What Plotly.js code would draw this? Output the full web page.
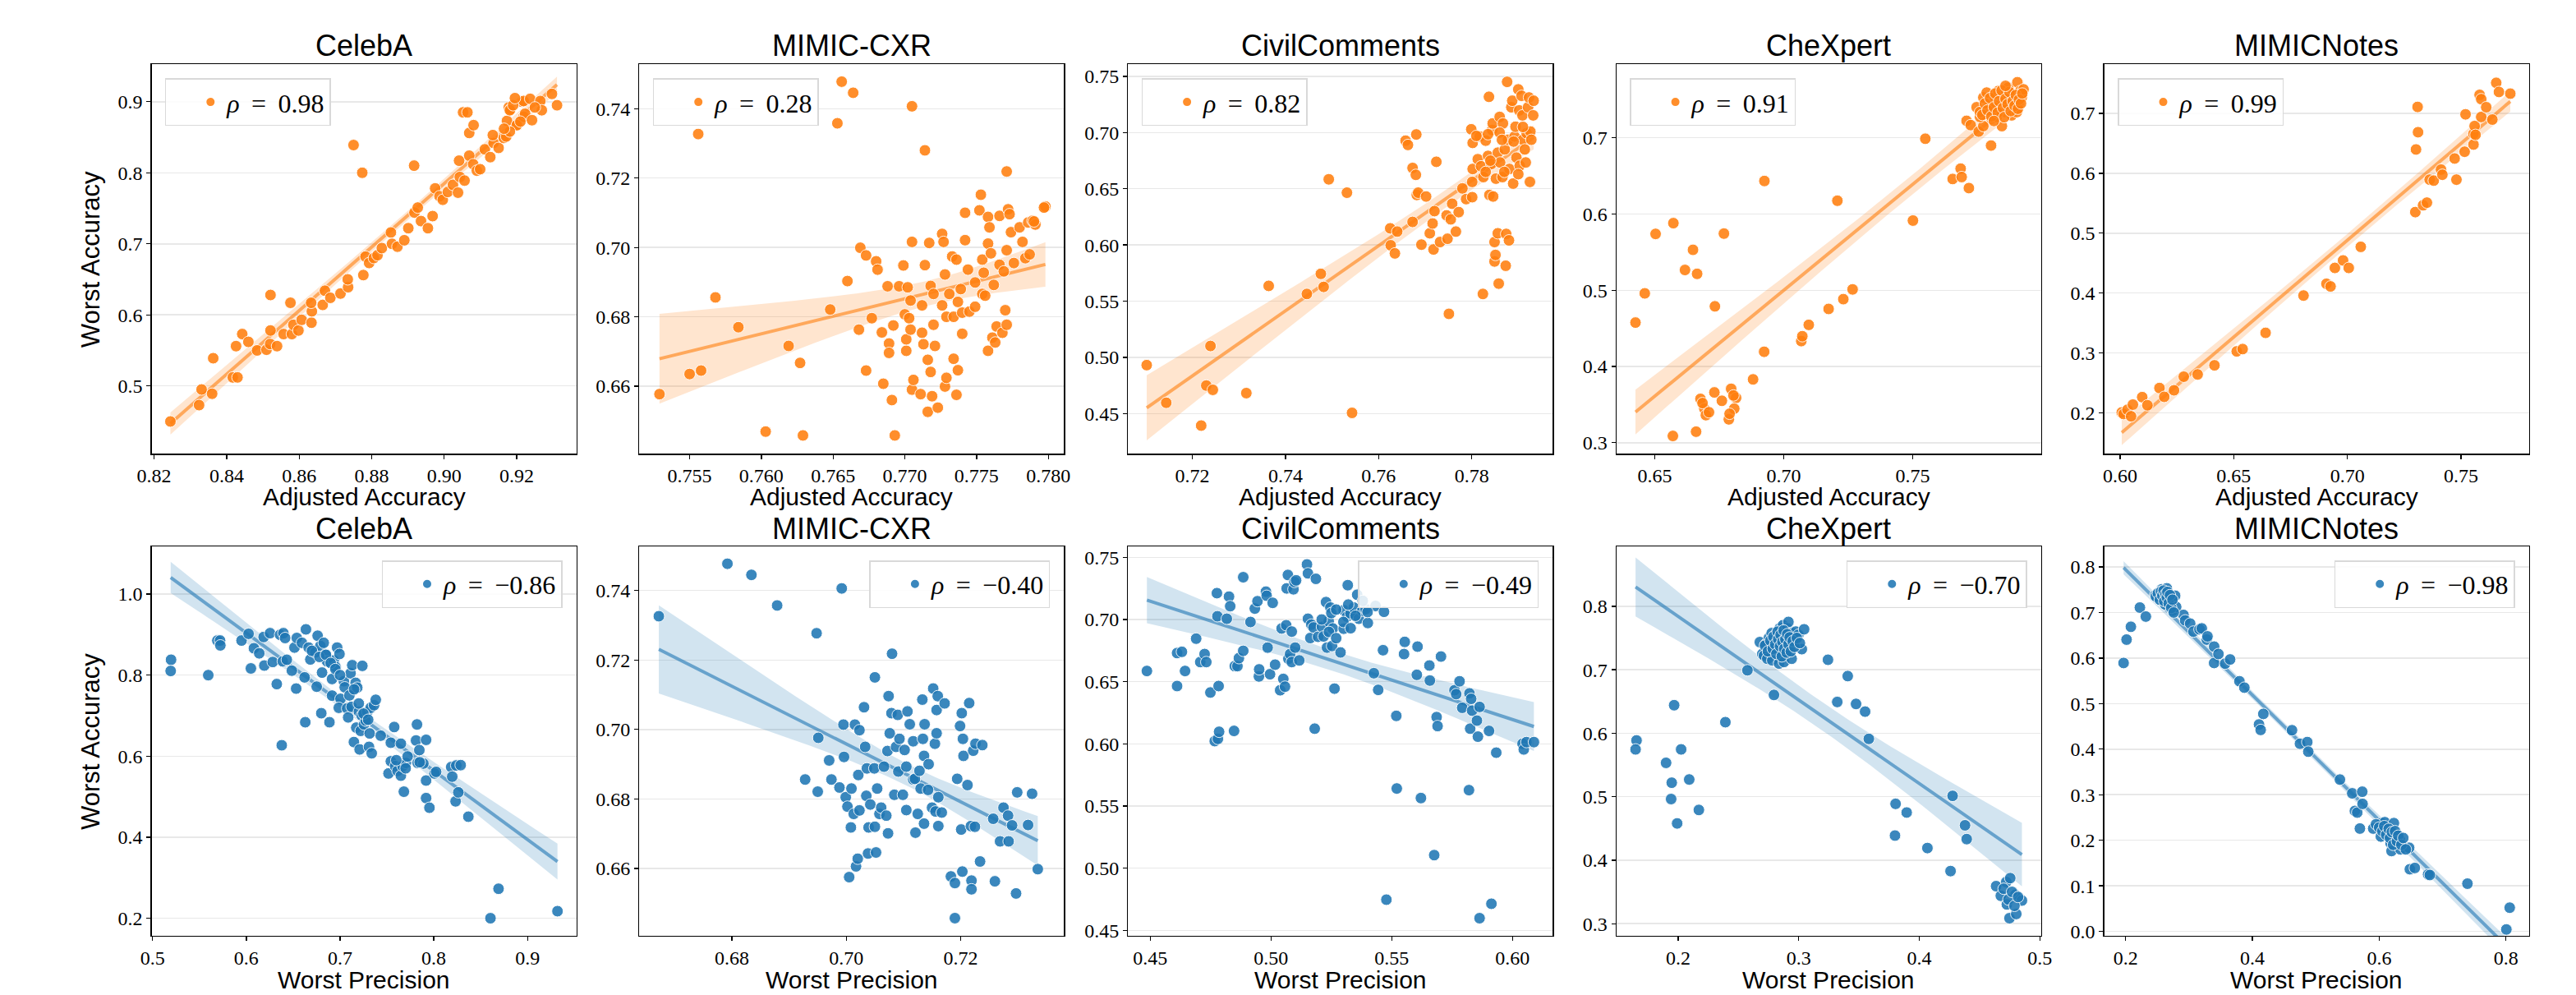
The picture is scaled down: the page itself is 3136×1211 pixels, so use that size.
<!DOCTYPE html>
<html>
<head>
<meta charset="utf-8">
<script src="https://cdn.plot.ly/plotly-3.0.1.min.js"></script>
<style>
html,body{margin:0;padding:0;background:#ffffff;}
#chart{width:3136px;height:1211px;}
</style>
</head>
<body>
<div id="chart"></div>
<script>
// ---------------- DATA ----------------
const datasets = ["CelebA", "MIMIC-CXR", "CivilComments", "CheXpert", "MIMICNotes"];
const xLabelTop = "Adjusted Accuracy";
const xLabelBottom = "Worst Precision";
const yLabel = "Worst Accuracy";
const rhoTop = ["0.98", "0.28", "0.82", "0.91", "0.99"];
const rhoBottom = ["\u22120.86", "\u22120.40", "\u22120.49", "\u22120.70", "\u22120.98"];

// Row 1: Adjusted Accuracy (x) vs Worst Accuracy (y)
const celebaAdjX = [0.8245,0.8324,0.8331,0.8360,0.8363,0.8417,0.8430,0.8426,0.8443,0.8460,
0.8484,0.8510,0.8520,0.8539,0.8521,0.8521,0.8557,0.8576,0.8580,0.8584,
0.8598,0.8607,0.8634,0.8635,0.8633,0.8665,0.8671,0.8686,0.8714,0.8735,
0.8734,0.8750,0.8774,0.8777,0.8783,0.8793,0.8806,0.8816,0.8828,0.8853,
0.8856,0.8871,0.8890,0.8901,0.8917,0.8918,0.8927,0.8936,0.8955,0.8968,
0.8975,0.8987,0.8996,0.9010,0.9024,0.9038,0.9043,0.9041,0.9056,0.9052,
0.9064,0.9069,0.9081,0.9069,0.9080,0.9090,0.9099,0.9112,0.9127,0.9136,
0.9134,0.9150,0.9164,0.9171,0.9178,0.9182,0.9173,0.9201,0.9214,0.9219,
0.9181,0.9190,0.9200,0.9219,0.9237,0.9223,0.9242,0.9265,0.9269,0.9297,
0.9311,0.9181,0.9195,0.9250,0.9210,0.9165];
const celebaAdjY = [0.450,0.473,0.495,0.489,0.539,0.512,0.512,0.556,0.573,0.562,
0.550,0.551,0.559,0.556,0.578,0.628,0.573,0.617,0.573,0.586,
0.578,0.593,0.589,0.605,0.617,0.614,0.634,0.624,0.630,0.639,
0.650,0.839,0.800,0.656,0.682,0.673,0.680,0.684,0.694,0.716,
0.700,0.696,0.705,0.722,0.810,0.744,0.751,0.732,0.722,0.739,
0.778,0.767,0.762,0.773,0.783,0.772,0.794,0.817,0.789,0.885,
0.885,0.856,0.867,0.824,0.812,0.803,0.805,0.833,0.822,0.842,
0.853,0.835,0.849,0.851,0.892,0.889,0.873,0.867,0.900,0.879,
0.888,0.895,0.867,0.901,0.904,0.883,0.874,0.901,0.888,0.911,
0.895,0.858,0.905,0.892,0.872,0.862];

const mimicCxrAdjX = [0.7529,0.7550,0.7556,0.7558,0.7568,0.7584,0.7603,0.7619,0.7627,0.7629,
0.7648,0.7653,0.7656,0.7664,0.7660,0.7668,0.7669,0.7673,0.7673,0.7677,
0.7680,0.7681,0.7684,0.7685,0.7688,0.7689,0.7689,0.7691,0.7692,0.7693,
0.7696,0.7699,0.7700,0.7701,0.7701,0.7702,0.7703,0.7704,0.7705,0.7705,
0.7705,0.7706,0.7704,0.7711,0.7712,0.7712,0.7713,0.7714,0.7714,0.7716,
0.7716,0.7717,0.7718,0.7718,0.7719,0.7720,0.7720,0.7721,0.7723,0.7726,
0.7727,0.7728,0.7726,0.7728,0.7729,0.7729,0.7731,0.7733,0.7734,0.7734,
0.7736,0.7736,0.7737,0.7737,0.7739,0.7740,0.7740,0.7742,0.7742,0.7744,
0.7745,0.7749,0.7749,0.7752,0.7753,0.7754,0.7754,0.7755,0.7756,0.7758,
0.7758,0.7758,0.7759,0.7760,0.7761,0.7762,0.7763,0.7764,0.7766,0.7766,
0.7768,0.7769,0.7770,0.7771,0.7771,0.7771,0.7772,0.7773,0.7774,0.7776,
0.7780,0.7782,0.7784,0.7786,0.7798,0.7789,0.7791,0.7797,0.7790,0.7787];
const mimicCxrAdjY = [0.6577,0.6635,0.7327,0.6645,0.6856,0.6770,0.6469,0.6716,0.6667,0.6458,
0.6821,0.7358,0.7478,0.7446,0.6903,0.6763,0.6999,0.6977,0.6645,0.6796,
0.6960,0.6936,0.6755,0.6607,0.6888,0.6723,0.6696,0.6560,0.6775,0.6458,
0.6888,0.6948,0.6807,0.6702,0.6735,0.6885,0.6796,0.6847,0.6590,0.7016,
0.7407,0.6618,0.6763,0.6577,0.6754,0.6833,0.6721,0.7280,0.6949,0.6526,
0.6676,0.7013,0.6641,0.6889,0.6571,0.6777,0.6866,0.6716,0.6538,0.7039,
0.7016,0.6922,0.6833,0.6599,0.6800,0.6624,0.6866,0.6974,0.6800,0.6679,
0.6965,0.6575,0.6843,0.6646,0.6880,0.6812,0.6751,0.7100,0.7021,0.6936,
0.6815,0.6899,0.6829,0.7107,0.7152,0.6965,0.6866,0.6927,0.6861,0.6702,
0.7011,0.7088,0.7058,0.6983,0.6740,0.6892,0.6726,0.6772,0.6950,0.7091,
0.6754,0.6931,0.6819,0.6777,0.7219,0.6992,0.7110,0.7096,0.7044,0.6955,
0.7058,0.7016,0.6969,0.7072,0.7118,0.7077,0.7066,0.7115,0.7075,0.6980];

const civilAdjX = [0.7102,0.7144,0.7219,0.7230,0.7239,0.7244,0.7316,0.7364,0.7446,0.7476,
0.7482,0.7493,0.7532,0.7543,0.7625,0.7626,0.7635,0.7640,0.7658,0.7663,
0.7673,0.7673,0.7680,0.7681,0.7682,0.7685,0.7692,0.7702,0.7710,0.7716,
0.7718,0.7720,0.7724,0.7732,0.7746,0.7748,0.7751,0.7755,0.7758,0.7766,
0.7772,0.7780,0.7788,0.7799,0.7801,0.7802,0.7802,0.7801,0.7813,0.7817,
0.7820,0.7824,0.7825,0.7830,0.7835,0.7837,0.7838,0.7842,0.7844,0.7845,
0.7846,0.7849,0.7849,0.7851,0.7852,0.7856,0.7856,0.7858,0.7860,0.7861,
0.7866,0.7867,0.7871,0.7873,0.7874,0.7876,0.7878,0.7880,0.7881,0.7885,
0.7887,0.7889,0.7892,0.7894,0.7896,0.7900,0.7902,0.7903,0.7907,0.7909,
0.7910,0.7914,0.7916,0.7918,0.7921,0.7923,0.7925,0.7926,0.7928,0.7932,
0.7933,0.7810,0.7830,0.7840,0.7860,0.7870,0.7890,0.7900,0.7910,0.7835,0.7865];
const civilAdjY = [0.4931,0.4596,0.4393,0.4749,0.5101,0.4711,0.4682,0.5636,0.5564,0.5743,
0.5627,0.6584,0.6465,0.4506,0.6148,0.5997,0.5925,0.6119,0.6928,0.6890,
0.6205,0.6685,0.6624,0.6983,0.6445,0.6465,0.6003,0.6431,0.6104,0.6191,
0.5960,0.6301,0.6740,0.6026,0.6263,0.6055,0.5387,0.6228,0.6367,0.6119,
0.6292,0.6503,0.6408,0.7029,0.6425,0.6908,0.6676,0.6561,0.6763,0.6965,
0.6700,0.5564,0.6604,0.6928,0.6792,0.7318,0.6445,0.6720,0.7023,0.7081,
0.6431,0.6026,0.5853,0.5911,0.6590,0.6821,0.6104,0.5656,0.7139,0.6734,
0.6604,0.7081,0.6850,0.5815,0.6098,0.7451,0.6936,0.6041,0.6676,0.7225,
0.7283,0.6546,0.6965,0.7052,0.6777,0.7384,0.7197,0.6705,0.7327,0.7153,
0.6936,0.6850,0.6734,0.6994,0.7225,0.7312,0.6561,0.7009,0.6936,0.7153,
0.7283,0.6970,0.6650,0.6750,0.7000,0.6650,0.6920,0.6630,0.7050,0.6985,0.6935];

const chexpertAdjX = [0.6425,0.6461,0.6503,0.6572,0.6570,0.6617,0.6648,0.6664,0.6660,0.6677,
0.6692,0.6698,0.6731,0.6733,0.6768,0.6787,0.6796,0.6815,0.6808,0.6881,
0.6925,0.6924,0.7068,0.7072,0.7097,0.7174,0.7208,0.7231,0.7267,0.7501,
0.7549,0.7655,0.7686,0.7690,0.7718,0.7709,0.7725,0.7756,0.7774,0.7761,
0.7804,0.7846,0.7748,0.7774,0.7787,0.7793,0.7813,0.7819,0.7832,0.7839,
0.7852,0.7858,0.7871,0.7878,0.7891,0.7897,0.7906,0.7910,0.7917,0.7923,
0.7930,0.7806,0.7826,0.7884,0.7904,0.7865,0.7819,0.7761,0.7845,
0.7770,0.7780,0.7790,0.7800,0.7805,0.7815,0.7820,0.7830,0.7835,0.7845,
0.7850,0.7855,0.7860,0.7868,0.7875,0.7880,0.7888,0.7895,0.7900,0.7908,
0.7912,0.7920,0.7925,0.7815,0.7860,
0.6685,0.6710,0.6760,0.6790,0.6805];
const chexpertAdjY = [0.4576,0.4959,0.5739,0.5880,0.3089,0.5266,0.5530,0.5215,0.3145,0.3575,
0.3447,0.3362,0.3660,0.4789,0.5743,0.3307,0.3707,0.3588,0.3447,0.3831,
0.6433,0.4193,0.4333,0.4397,0.4546,0.4755,0.6174,0.4883,0.5011,0.5914,
0.6987,0.6459,0.6595,0.6485,0.6340,0.7222,0.7166,0.7081,0.7153,0.7273,
0.6898,0.7153,0.7400,0.7528,0.7592,0.7400,0.7337,0.7528,0.7613,0.7443,
0.7528,0.7337,0.7656,0.7486,0.7358,0.7550,0.7728,0.7443,0.7613,0.7528,
0.7635,0.7251,0.7273,0.7294,0.7337,0.7422,0.7422,0.7337,0.7570,
0.7300,0.7450,0.7360,0.7520,0.7280,0.7400,0.7580,0.7330,0.7480,0.7620,
0.7390,0.7270,0.7510,0.7440,0.7600,0.7350,0.7480,0.7420,0.7560,0.7380,
0.7500,0.7450,0.7580,0.7220,0.7680,
0.3520,0.3400,0.3550,0.3380,0.3620];

const mimicNotesAdjX = [0.6007,0.6015,0.6032,0.6048,0.6056,0.6097,0.6120,0.6173,0.6194,0.6237,
0.6280,0.6341,0.6415,0.6513,0.6539,0.6640,0.6807,0.6908,0.6926,0.6945,
0.6981,0.7006,0.7059,0.7299,0.7302,0.7309,0.7311,0.7333,0.7350,0.7362,
0.7380,0.7412,0.7418,0.7472,0.7480,0.7516,0.7520,0.7555,0.7555,0.7560,
0.7564,0.7582,0.7589,0.7589,0.7611,0.7638,0.7655,0.7667,0.7717];
const mimicNotesAdjY = [0.2008,0.1981,0.2052,0.1943,0.2138,0.2263,0.2127,0.2415,0.2268,0.2377,
0.2604,0.2642,0.2794,0.3027,0.3065,0.3336,0.3959,0.4155,0.4111,0.4420,
0.4545,0.4420,0.4772,0.5352,0.6398,0.7108,0.6686,0.5466,0.5510,0.5894,
0.5878,0.6062,0.5976,0.6247,0.5894,0.6360,0.6984,0.6480,0.6659,0.6789,
0.6642,0.7309,0.7238,0.6940,0.7103,0.6897,0.7510,0.7358,0.7330];

// Row 2: Worst Precision (x) vs Worst Accuracy (y)
const celebaPrecX = [0.5197,0.5193,0.5594,0.5691,0.5720,0.5723,0.5949,0.6024,0.6081,0.6049,
0.6138,0.6185,0.6192,0.6253,0.6282,0.6325,0.6360,0.6378,0.6389,0.6396,
0.6414,0.6432,0.6486,0.6514,0.6532,0.6539,0.6593,0.6622,0.6629,0.6636,
0.6665,0.6683,0.6736,0.6751,0.6761,0.6790,0.6800,0.6808,0.6826,0.6844,
0.6862,0.6887,0.6915,0.6915,0.6933,0.6951,0.6969,0.6994,0.7005,0.6987,
0.7041,0.7076,0.7087,0.7112,0.7123,0.7130,0.7148,0.7166,0.7173,0.7184,
0.7202,0.7209,0.7220,0.7231,0.7238,0.7255,0.7273,0.7291,0.7309,0.7316,
0.7327,0.7338,0.7363,0.7381,0.7434,0.7517,0.7542,0.7542,0.7578,0.7588,
0.7613,0.7649,0.7649,0.7667,0.7681,0.7703,0.7721,0.7811,0.7821,0.7828,
0.7846,0.7889,0.7918,0.7918,0.7918,0.7954,0.8007,0.8025,0.8186,0.8197,
0.8240,0.8233,0.8262,0.8287,0.8369,0.8605,0.8691,0.9320,
0.6700,0.6780,0.6850,0.6900,0.6950,0.7000,0.7050,0.7100,0.7150,0.7200,
0.7250,0.7300,0.7600,0.7700,0.7850];
const celebaPrecY = [0.838,0.8103,0.800,0.8854,0.8854,0.8735,0.8854,0.902,0.8664,0.8166,
0.8538,0.8941,0.8237,0.9036,0.8324,0.7779,0.8996,0.6269,0.834,0.9036,
0.8917,0.838,0.8111,0.868,0.7668,0.8917,0.8798,0.7945,0.6838,0.913,
0.868,0.8387,0.8561,0.7716,0.8972,0.872,0.706,0.8063,0.8798,0.8506,
0.834,0.6838,0.7494,0.7905,0.8364,0.8206,0.868,0.8522,0.7415,0.7194,
0.785,0.7178,0.6957,0.8047,0.7218,0.8245,0.6348,0.781,0.6704,0.7692,
0.7099,0.6166,0.6625,0.7004,0.8229,0.6783,0.6878,0.7099,0.6229,0.6561,
0.7194,0.6071,0.7257,0.7391,0.6506,0.5573,0.6332,0.5873,0.6719,0.5755,
0.5636,0.5518,0.6308,0.5755,0.5123,0.5834,0.5992,0.6387,0.6783,0.5834,
0.615,0.5818,0.6403,0.5399,0.4965,0.4727,0.5573,0.5613,0.5731,0.5494,
0.5771,0.4885,0.5107,0.5779,0.4506,0.2,0.2727,0.2174,
0.8600,0.8450,0.8500,0.8300,0.8150,0.8000,0.7700,0.7500,0.7650,0.7300,
0.7050,0.6900,0.5900,0.5700,0.5850];

const mimicCxrPrecX = [0.6672,0.6792,0.6834,0.6879,0.6928,0.6948,0.6950,0.6951,0.6970,0.6974,
0.6988,0.6992,0.6995,0.6996,0.6999,0.7002,0.7005,0.7008,0.7009,0.7013,
0.7015,0.7017,0.7020,0.7021,0.7023,0.7023,0.7031,0.7033,0.7035,0.7036,
0.7038,0.7039,0.7042,0.7049,0.7050,0.7050,0.7052,0.7054,0.7058,0.7061,
0.7066,0.7070,0.7072,0.7073,0.7074,0.7076,0.7079,0.7080,0.7084,0.7087,
0.7090,0.7091,0.7093,0.7099,0.7102,0.7105,0.7105,0.7107,0.7111,0.7117,
0.7117,0.7120,0.7121,0.7125,0.7128,0.7130,0.7133,0.7134,0.7136,0.7136,
0.7137,0.7143,0.7144,0.7150,0.7152,0.7155,0.7156,0.7158,0.7158,0.7160,
0.7161,0.7161,0.7167,0.7172,0.7183,0.7190,0.7190,0.7194,0.7199,0.7201,
0.7202,0.7203,0.7204,0.7205,0.7212,0.7215,0.7218,0.7219,0.7219,0.7222,
0.7225,0.7226,0.7234,0.7238,0.7257,0.7260,0.7269,0.7275,0.7283,0.7284,
0.7290,0.7297,0.7299,0.7335,0.7325,0.7318];
const mimicCxrPrecY = [0.7326,0.7477,0.7445,0.7357,0.6856,0.7277,0.6821,0.6976,0.6911,0.6856,
0.6833,0.7406,0.7014,0.6921,0.6805,0.6778,0.6575,0.6718,0.6830,0.6757,
0.7014,0.6606,0.6628,0.6869,0.6767,0.6998,0.7064,0.6950,0.6809,0.6888,
0.6643,0.6718,0.6784,0.6888,0.6720,0.7150,0.6646,0.6830,0.6757,0.6775,
0.6893,0.6752,0.6938,0.6701,0.7096,0.6989,0.7047,0.7218,0.6812,0.6950,
0.7042,0.6879,0.6973,0.6812,0.6941,0.6768,0.6893,0.7052,0.7015,0.6966,
0.6856,0.6858,0.6703,0.6757,0.6881,0.6830,0.7086,0.6973,0.6729,0.6924,
0.7015,0.6826,0.6900,0.6775,0.7118,0.6959,0.6764,0.6989,0.7056,0.7096,
0.6805,0.6722,0.6761,0.7075,0.6577,0.6457,0.6558,0.6858,0.7010,0.6712,
0.7047,0.6591,0.6973,0.6924,0.6840,0.7076,0.6722,0.6565,0.6540,0.6939,
0.6720,0.6959,0.6620,0.6955,0.6743,0.6563,0.6678,0.6775,0.6752,0.6678,
0.6724,0.6528,0.6819,0.6598,0.6815,0.6725];

const civilPrecX = [0.4486,0.4611,0.4611,0.4631,0.4644,0.4690,0.4707,0.4725,0.4732,0.4749,
0.4767,0.4776,0.4778,0.4780,0.4783,0.4785,0.4817,0.4826,0.4831,0.4847,
0.4850,0.4861,0.4867,0.4885,0.4885,0.4915,0.4933,0.4944,0.4950,0.4951,
0.4979,0.4982,0.4986,0.4996,0.5007,0.5017,0.5038,0.5044,0.5051,0.5058,
0.5063,0.5070,0.5065,0.5072,0.5079,0.5086,0.5086,0.5093,0.5097,0.5100,
0.5104,0.5117,0.5149,0.5153,0.5153,0.5163,0.5167,0.5176,0.5181,0.5186,
0.5195,0.5211,0.5218,0.5228,0.5232,0.5239,0.5246,0.5250,0.5253,0.5256,
0.5263,0.5288,0.5301,0.5301,0.5315,0.5318,0.5329,0.5343,0.5357,0.5364,
0.5378,0.5392,0.5401,0.5426,0.5433,0.5444,0.5464,0.5468,0.5478,0.5519,
0.5521,0.5551,0.5554,0.5604,0.5607,0.5621,0.5656,0.5658,0.5676,0.5686,
0.5690,0.5704,0.5760,0.5767,0.5781,0.5792,0.5822,0.5825,0.5820,0.5829,
0.5833,0.5853,0.5857,0.5864,0.5864,0.5903,0.5913,0.5933,0.6042,0.6047,
0.6058,0.6089,
0.5210,0.5240,0.5270,0.5300,0.5320,0.5350,0.5380,0.5400,0.5270,0.5330];
const civilPrecY = [0.6586,0.6465,0.6730,0.6740,0.6586,0.6846,0.6658,0.6722,0.6658,0.6413,
0.6022,0.7212,0.7026,0.6040,0.6465,0.6097,0.7006,0.7184,0.7107,0.6104,
0.6625,0.6625,0.6689,0.6748,0.7340,0.6980,0.7088,0.7147,0.6542,0.6599,
0.7224,0.7191,0.6774,0.6560,0.7134,0.6637,0.6431,0.6928,0.6522,0.6460,
0.6954,0.7358,0.7250,0.6684,0.6722,0.6903,0.6658,0.7243,0.7302,0.6774,
0.7315,0.6671,0.7443,0.7371,0.7006,0.6851,0.6959,0.6936,0.6122,0.7327,
0.6861,0.6941,0.6864,0.7140,0.6774,0.6985,0.7096,0.7052,0.6787,0.6928,
0.6444,0.6735,0.6926,0.7075,0.7024,0.7276,0.7049,0.7096,0.7199,0.7006,
0.7070,0.7083,0.6972,0.6568,0.7109,0.6434,0.6753,0.7062,0.4747,0.6225,
0.5641,0.6722,0.6820,0.6555,0.6782,0.5564,0.6630,0.6509,0.5105,0.6215,
0.6143,0.6702,0.6431,0.6400,0.6503,0.6290,0.6406,0.6122,0.5628,0.6362,
0.6267,0.6187,0.6058,0.6297,0.4598,0.6104,0.4714,0.5929,0.6001,0.5955,
0.6014,0.6014,
0.7000,0.6900,0.7080,0.6980,0.7120,0.7030,0.7150,0.7060,0.6850,0.6930];

const chexpertPrecX = [0.1655,0.1647,0.1900,0.1967,0.1947,0.1942,0.2025,0.1992,0.2092,0.2172,
0.2392,0.2575,0.2678,0.2698,0.2712,0.2726,0.2740,0.2753,0.2776,0.2781,
0.2795,0.2803,0.2809,0.2823,0.2837,0.2842,0.2851,0.2859,0.2870,0.2878,
0.2887,0.2892,0.2906,0.2915,0.2929,0.2942,0.2948,0.2962,0.2976,0.2998,
0.3026,0.3045,0.3243,0.3407,0.3320,0.3476,0.3551,0.3582,0.3804,0.3896,
0.3799,0.4068,0.4260,0.4277,0.4380,0.4394,0.4638,0.4677,0.4722,0.4755,
0.4727,0.4749,0.4797,0.4805,0.4852,
0.2720,0.2745,0.2765,0.2785,0.2790,0.2805,0.2815,0.2825,0.2830,0.2845,
0.2850,0.2860,0.2865,0.2875,0.2880,0.2890,0.2900,0.2905,0.2915,0.2925,
0.2935,0.2950,0.2965,0.2985,0.3010,
0.4700,0.4740,0.4770,0.4790,0.4820];
const chexpertPrecY = [0.5886,0.5745,0.5533,0.6441,0.5220,0.4963,0.5745,0.4579,0.5271,0.4791,
0.6174,0.6991,0.7435,0.7248,0.7223,0.7400,0.7173,0.7501,0.7576,0.7147,
0.6603,0.7349,0.7551,0.7450,0.7097,0.7652,0.7299,0.7475,0.7702,0.7122,
0.7526,0.7349,0.7652,0.7753,0.7400,0.7173,0.7576,0.7501,0.7601,0.7551,
0.7324,0.7637,0.7157,0.6900,0.6492,0.6461,0.6340,0.5911,0.4887,0.4751,
0.4388,0.4191,0.3828,0.5013,0.4549,0.4332,0.3591,0.3439,0.3656,0.3717,
0.3303,0.3086,0.3454,0.3152,0.3364,
0.7380,0.7290,0.7460,0.7330,0.7520,0.7400,0.7250,0.7600,0.7480,0.7370,
0.7550,0.7210,0.7440,0.7620,0.7330,0.7480,0.7270,0.7560,0.7400,0.7510,
0.7290,0.7450,0.7360,0.7500,0.7420,
0.3550,0.3380,0.3500,0.3280,0.3420];

const mimicNotesPrecX = [0.1969,0.2016,0.2084,0.2226,0.2320,0.2467,0.2536,0.2572,0.2625,0.2651,
0.2688,0.2714,0.2746,0.2782,0.2798,0.2914,0.2940,0.3019,0.3071,0.3166,
0.3202,0.3281,0.3292,0.3397,0.3397,0.3465,0.3570,0.3649,0.3796,0.3874,
0.4105,0.4131,0.4173,0.4625,0.4751,0.4866,0.4882,0.5381,0.5575,0.5733,
0.5617,0.5654,0.5738,0.5696,0.5906,0.6037,0.6027,0.6089,0.6142,0.6179,
0.6195,0.6232,0.6274,0.6326,0.6337,0.6473,0.6484,0.6562,0.6772,0.6799,
0.7392,0.8006,0.8059,
0.2480,0.2510,0.2540,0.2560,0.2580,0.2600,0.2610,0.2630,0.2650,0.2660,
0.2680,0.2700,0.2720,0.2740,0.2760,
0.5950,0.6000,0.6050,0.6080,0.6110,0.6150,0.6170,0.6200,0.6220,0.6250,
0.6280,0.6300,0.6350,0.6380,0.6420];
const mimicNotesPrecY = [0.5891,0.6404,0.6685,0.7107,0.6910,0.7374,0.7339,0.7508,0.7177,0.7529,
0.7318,0.7213,0.7037,0.7367,0.7121,0.6946,0.6826,0.6756,0.6580,0.6629,
0.6650,0.6404,0.6475,0.6250,0.5891,0.6088,0.5877,0.5968,0.5490,0.5350,
0.4541,0.4422,0.4773,0.4415,0.4119,0.4155,0.3944,0.3332,0.3030,0.3065,
0.2643,0.2608,0.2798,0.2257,0.2257,0.2376,0.2081,0.2397,0.2151,0.1940,
0.1764,0.2376,0.2137,0.2011,0.1800,0.1835,0.1364,0.1392,0.1251,0.1237,
0.1047,0.0042,0.0520,
0.7350,0.7420,0.7280,0.7460,0.7370,0.7480,0.7250,0.7400,0.7330,0.7450,
0.7200,0.7380,0.7100,0.7280,0.7000,
0.2350,0.2280,0.2200,0.2310,0.2120,0.2250,0.2050,0.2180,0.1900,0.2200,
0.1980,0.2100,0.1900,0.2050,0.1800];

// ---------------- CONFIG ----------------
const W = 3136, H = 1211;
const colLeft = [184.5, 778.4, 1373.3, 1967.8, 2561.7];
const colW = 517;
const rowTop = [78.3, 665];
const rowH = 474;
const titleCenterY = [55.4, 643];
const xTitleCenterY = [604, 1192];

const panelData = [
  [celebaAdjX, celebaAdjY], [mimicCxrAdjX, mimicCxrAdjY], [civilAdjX, civilAdjY],
  [chexpertAdjX, chexpertAdjY], [mimicNotesAdjX, mimicNotesAdjY],
  [celebaPrecX, celebaPrecY], [mimicCxrPrecX, mimicCxrPrecY], [civilPrecX, civilPrecY],
  [chexpertPrecX, chexpertPrecY], [mimicNotesPrecX, mimicNotesPrecY]
];
const xRanges = [[0.8193,0.9364],[0.7515,0.7811],[0.7062,0.7974],[0.6351,0.7998],[0.593,0.7799],
                 [0.4989,0.952],[0.6638,0.7381],[0.4408,0.6167],[0.1488,0.5011],[0.1664,0.8362]];
const yRanges = [[0.4045,0.9526],[0.6405,0.7528],[0.4142,0.7607],[0.2855,0.7963],[0.1317,0.7819],
                 [0.1565,1.1178],[0.6406,0.7527],[0.4456,0.7588],[0.2808,0.8943],[-0.0098,0.845]];
const xTicks = [[0.02,'.2f'],[0.005,'.3f'],[0.02,'.2f'],[0.05,'.2f'],[0.05,'.2f'],
                [0.1,'.1f'],[0.02,'.2f'],[0.05,'.2f'],[0.1,'.1f'],[0.2,'.1f']];
const yTicks = [[0.1,'.1f'],[0.02,'.2f'],[0.05,'.2f'],[0.1,'.1f'],[0.1,'.1f'],
                [0.2,'.1f'],[0.02,'.2f'],[0.05,'.2f'],[0.1,'.1f'],[0.1,'.1f']];

const ORANGE = '#ff7f0e', BLUE = '#1f77b4';
const serifFont = 'Liberation Serif, Times New Roman, serif';
const tickFont = {family: serifFont, size: 24, color: '#000'};
const sansFont = 'Liberation Sans, Arial, Helvetica, sans-serif';

function olsFit(xs, ys) {
  const n = Math.min(xs.length, ys.length);
  let mx = 0, my = 0;
  for (let i = 0; i < n; i++) { mx += xs[i]; my += ys[i]; }
  mx /= n; my /= n;
  let sxx = 0, sxy = 0;
  for (let i = 0; i < n; i++) { sxx += (xs[i]-mx)*(xs[i]-mx); sxy += (xs[i]-mx)*(ys[i]-my); }
  const b = sxy / sxx, a = my - b * mx;
  let sse = 0;
  for (let i = 0; i < n; i++) { const r = ys[i] - (a + b*xs[i]); sse += r*r; }
  const s = Math.sqrt(sse / (n - 2));
  let xmin = Infinity, xmax = -Infinity;
  for (let i = 0; i < n; i++) { xmin = Math.min(xmin, xs[i]); xmax = Math.max(xmax, xs[i]); }
  const gx = [], gy = [], lo = [], hi = [];
  const steps = 100;
  for (let k = 0; k <= steps; k++) {
    const x = xmin + (xmax - xmin) * k / steps;
    const yh = a + b * x;
    const se = s * Math.sqrt(1/n + (x-mx)*(x-mx)/sxx);
    gx.push(x); gy.push(yh); lo.push(yh - 1.96*se); hi.push(yh + 1.96*se);
  }
  return {gx, gy, lo, hi};
}

const traces = [];
const layout = {
  width: W, height: H,
  margin: {l: 0, r: 0, t: 0, b: 0},
  paper_bgcolor: '#ffffff', plot_bgcolor: '#ffffff',
  showlegend: true,
  annotations: []
};

for (let p = 0; p < 10; p++) {
  const row = p < 5 ? 0 : 1;
  const col = p % 5;
  const idx = p + 1;
  const sfx = idx === 1 ? '' : String(idx);
  const xa = 'x' + sfx, ya = 'y' + sfx;
  const xKey = 'xaxis' + sfx, yKey = 'yaxis' + sfx;
  const legKey = 'legend' + sfx;
  const color = row === 0 ? ORANGE : BLUE;
  const rgb = row === 0 ? '255,127,14' : '31,119,180';
  const [xs, ys] = panelData[p];
  const f = olsFit(xs, ys);

  traces.push({
    type: 'scatter', mode: 'lines', xaxis: xa, yaxis: ya,
    x: f.gx.concat(f.gx.slice().reverse()),
    y: f.hi.concat(f.lo.slice().reverse()),
    fill: 'toself', fillcolor: 'rgba(' + rgb + ',0.2)',
    line: {width: 0, color: 'rgba(0,0,0,0)'},
    hoverinfo: 'skip', showlegend: false
  });
  traces.push({
    type: 'scatter', mode: 'lines', xaxis: xa, yaxis: ya,
    x: f.gx, y: f.gy,
    line: {width: 4, color: 'rgba(' + rgb + ',0.6)'},
    hoverinfo: 'skip', showlegend: false
  });
  const rho = row === 0 ? rhoTop[col] : rhoBottom[col];
  traces.push({
    type: 'scatter', mode: 'markers', xaxis: xa, yaxis: ya,
    x: xs, y: ys,
    name: '<i>\u03C1</i>\u2009 = \u2009' + rho,
    legend: legKey,
    marker: {size: 14, color: color, opacity: 0.88, line: {color: '#ffffff', width: 1}},
    showlegend: true
  });

  const x0 = colLeft[col], x1 = colLeft[col] + colW;
  const yTopPx = rowTop[row], yBotPx = rowTop[row] + rowH;
  layout[xKey] = {
    domain: [x0 / W, x1 / W], anchor: ya,
    range: xRanges[p], tick0: 0, dtick: xTicks[p][0], tickformat: xTicks[p][1],
    showgrid: false, zeroline: false,
    showline: true, mirror: true, linecolor: '#000', linewidth: 1.3,
    ticks: 'outside', ticklen: 5, tickwidth: 1.3, tickcolor: '#000',
    tickfont: tickFont, automargin: false
  };
  layout[yKey] = {
    domain: [1 - yBotPx / H, 1 - yTopPx / H], anchor: xa,
    range: yRanges[p], tick0: 0, dtick: yTicks[p][0], tickformat: yTicks[p][1],
    showgrid: true, gridcolor: '#e8e8e8', gridwidth: 1.5, zeroline: false,
    showline: true, mirror: true, linecolor: '#000', linewidth: 1.3,
    ticks: 'outside', ticklen: 5, tickwidth: 1.3, tickcolor: '#000',
    tickfont: tickFont, automargin: false
  };

  const legendBase = {
    bgcolor: 'rgba(255,255,255,0.85)', bordercolor: '#d9d9d9', borderwidth: 1.5,
    font: {family: serifFont, size: 32, color: '#000'},
    title: {text: '\u00A0\u00A0\u00A0', side: 'left', font: {family: serifFont, size: 32}},
    itemsizing: 'constant'
  };
  if (row === 0) {
    layout[legKey] = Object.assign({}, legendBase, {
      x: (x0 + 16.3) / W, y: 1 - (yTopPx + 17) / H, xanchor: 'left', yanchor: 'top'
    });
  } else {
    layout[legKey] = Object.assign({}, legendBase, {
      x: (x1 - 17) / W, y: 1 - (yTopPx + 17) / H, xanchor: 'right', yanchor: 'top'
    });
  }

  // subplot title
  layout.annotations.push({
    xref: 'paper', yref: 'paper', x: (x0 + x1) / 2 / W,
    y: 1 - titleCenterY[row] / H,
    xanchor: 'center', yanchor: 'middle', showarrow: false,
    text: datasets[col], font: {family: sansFont, size: 36, color: '#000'}
  });
  // x-axis title
  layout.annotations.push({
    xref: 'paper', yref: 'paper', x: (x0 + x1) / 2 / W,
    y: 1 - xTitleCenterY[row] / H,
    xanchor: 'center', yanchor: 'middle', showarrow: false,
    text: row === 0 ? xLabelTop : xLabelBottom, font: {family: sansFont, size: 30, color: '#000'}
  });
  if (col === 0) {
    layout.annotations.push({
      xref: 'paper', yref: 'paper', x: 110 / W,
      y: 1 - (yTopPx + rowH / 2) / H,
      xanchor: 'center', yanchor: 'middle', showarrow: false, textangle: -90,
      text: yLabel, font: {family: sansFont, size: 31, color: '#000'}
    });
  }
}

Plotly.newPlot('chart', traces, layout, {staticPlot: true, displayModeBar: false});
</script>
</body>
</html>
